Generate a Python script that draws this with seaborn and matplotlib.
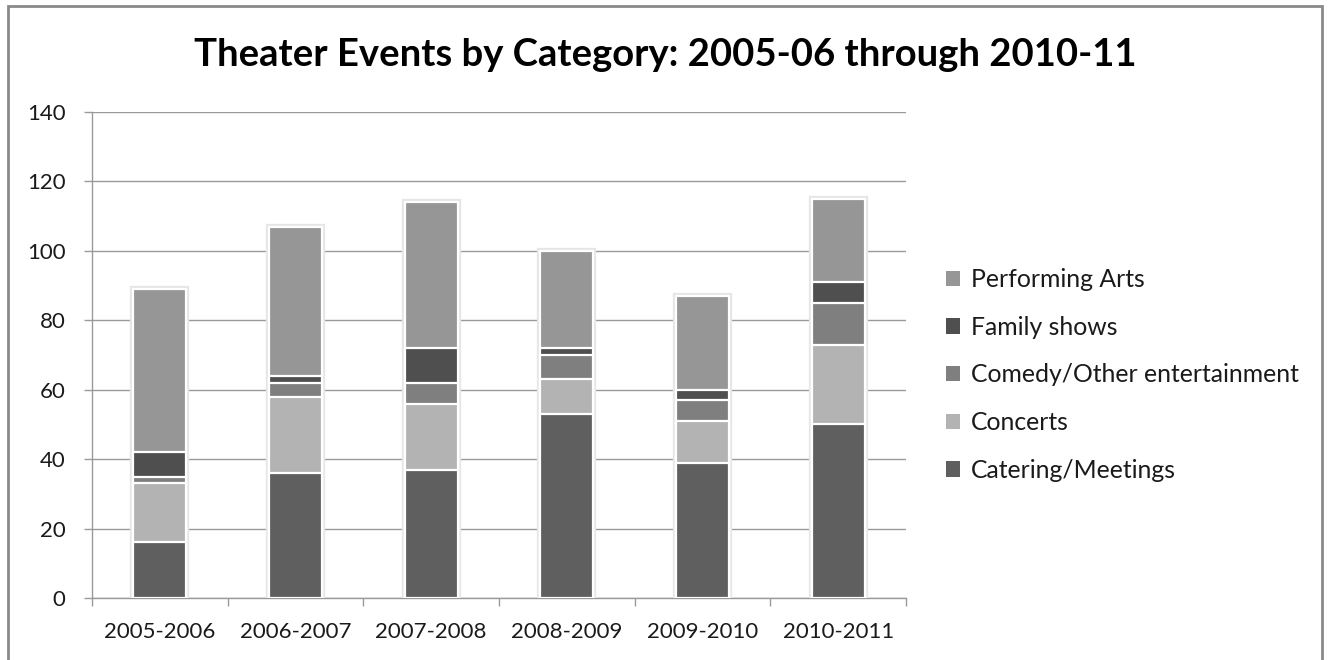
import matplotlib
matplotlib.use("Agg")
import matplotlib.pyplot as plt
import matplotlib.patheffects as pe
from matplotlib.patches import Patch, Rectangle
import numpy as np
import pandas as pd
import seaborn as sns

seasons = ["2005-2006", "2006-2007", "2007-2008", "2008-2009", "2009-2010", "2010-2011"]
catering = [16, 36, 37, 53, 39, 50]
concerts = [17, 22, 19, 10, 12, 23]
comedy = [2, 4, 6, 7, 6, 12]
family = [7, 2, 10, 2, 3, 6]
performing = [47, 43, 42, 28, 27, 24]

categories = ["Catering/Meetings", "Concerts", "Comedy/Other entertainment",
              "Family shows", "Performing Arts"]
colors = ["#5f5f5f", "#b3b3b3", "#7f7f7f", "#4f4f4f", "#969696"]

sns.set_theme(style="white")
plt.rcParams["font.family"] = ["Lato", "DejaVu Sans"]

df = pd.DataFrame({"season": seasons,
                   categories[0]: catering,
                   categories[1]: concerts,
                   categories[2]: comedy,
                   categories[3]: family,
                   categories[4]: performing})
cum = df[categories].cumsum(axis=1)

fig = plt.figure(figsize=(13.28, 6.6), dpi=100)
ax = fig.add_axes([0.0693, 0.0939, 0.6130, 0.7364])

# stacked bars: draw cumulative totals from the top layer down
for i in range(len(categories) - 1, -1, -1):
    sub = pd.DataFrame({"season": seasons, "value": cum[categories[i]]})
    sns.barplot(data=sub, x="season", y="value", order=seasons, color=colors[i],
                saturation=1, width=0.39, edgecolor="white", linewidth=1.6,
                ax=ax, zorder=3)

# soft halo around the full stacks
for bar in ax.patches[:len(seasons)]:
    bar.set_path_effects([pe.Stroke(linewidth=4.5, foreground="#e6e6e6"), pe.Normal()])

ax.set_ylim(0, 140)
ax.set_yticks(np.arange(0, 141, 20))
ax.set_xlim(-0.5, len(seasons) - 0.5)
ax.set_xlabel("")
ax.set_ylabel("")

ax.yaxis.grid(True, color="#9a9a9a", linewidth=1.0, zorder=0)
ax.set_axisbelow(True)
for side in ["top", "right"]:
    ax.spines[side].set_visible(False)
for side in ["left", "bottom"]:
    ax.spines[side].set_color("#9a9a9a")
    ax.spines[side].set_linewidth(1.0)

# x ticks sit between categories
ax.set_xticks(np.arange(len(seasons)))
ax.set_xticklabels(seasons)
ax.set_xticks(np.arange(-0.5, len(seasons)), minor=True)
ax.tick_params(axis="x", which="major", length=0, pad=17, labelsize=16, labelcolor="#1a1a1a")
ax.tick_params(axis="x", which="minor", length=6, width=1, color="#9a9a9a", direction="out", bottom=True)
ax.tick_params(axis="y", length=6, width=1, color="#9a9a9a", direction="out", left=True,
               pad=13, labelsize=16, labelcolor="#1a1a1a")

fig.suptitle("Theater Events by Category: 2005-06 through 2010-11", x=0.501, y=0.943,
             fontsize=27.5, fontweight="bold", color="black")

handles = [Patch(facecolor=colors[i], edgecolor="none", label=categories[i])
           for i in range(len(categories) - 1, -1, -1)]
fig.legend(handles=handles, loc="upper left", bbox_to_anchor=(0.712, 0.594),
           frameon=False, fontsize=17.8, labelspacing=1.0, handlelength=0.58,
           handleheight=0.58, handletextpad=0.45, labelcolor="#1a1a1a",
           borderaxespad=0, borderpad=0)

fig.add_artist(Rectangle((8 / 1328, -0.05), (1322 - 8) / 1328, 1.05 - 6 / 660,
                         transform=fig.transFigure, fill=False, edgecolor="#8a8a8a",
                         linewidth=2.0))

fig.savefig("out.png", dpi=100)
